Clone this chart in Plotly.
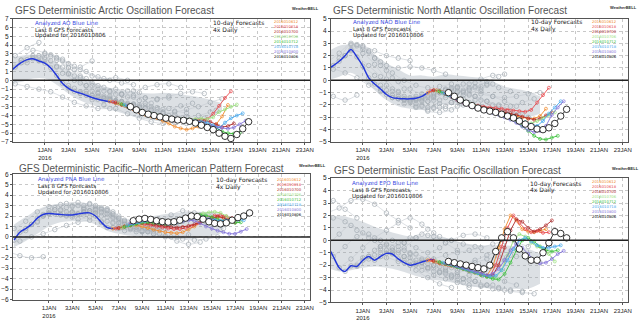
import plotly.graph_objects as go

W, H = 640, 327

# ---------------- time axis (days relative to 1 Jan 2016 00Z) ----------------
ANALYSIS_START = -3.0
ANALYSIS_STEP = 0.5
FCST_STEP = 0.5
GREY_STEP = 1.0
CORE_TIMES = [-3, -2, -1, 0, 1, 2, 3, 4, 5, 6, 7, 8, 9, 10, 11, 12, 13, 14, 15]

FCST_LABELS = ["2016010612", "2016010618", "2016010700", "2016010706",
               "2016010712", "2016010718", "2016010800", "2016010806"]
FCST_INITS = [5.5, 5.75, 6.0, 6.25, 6.5, 6.75, 7.0, 7.25]
GREY_INITS = [-6.5, -6.0, -4.5, -3.0, -2.5, -2.0, -1.5, -1.0, -0.5, 0.0,
              0.5, 1.0, 1.5, 2.0, 2.5, 3.0, 3.5, 4.0, 4.5, 5.0]

X_TICK_VALS = [0, 2, 4, 6, 8, 10, 12, 14, 16, 18, 20, 22]
X_TICK_TEXT = ["1JAN<br>2016", "3JAN", "5JAN", "7JAN", "9JAN", "11JAN", "13JAN",
               "15JAN", "17JAN", "19JAN", "21JAN", "23JAN"]

# ---------------- AO ----------------
AO_ANALYSIS = [0.9, 1.5, 2.0, 2.35, 2.45, 2.2, 1.95, 1.4, 0.55, -0.35, -0.9, -1.25,
               -1.45, -1.7, -1.95, -2.15, -2.3, -2.45, -2.55]
AO_F0612 = [-2.4, -2.6, -2.8, -3.0, -3.3, -3.6, -3.9, -4.1, -4.3, -4.6, -4.9, -5.25, -5.45, -5.6, -5.45, -5.25, -5.2, -5.5, -5.0, -4.1, -2.8]
AO_F0618 = [-2.45, -2.65, -2.9, -3.15, -3.4, -3.65, -3.9, -4.05, -4.2, -4.3, -4.4, -4.45, -4.5, -4.5, -4.5, -4.5, -4.4, -3.8, -2.9, -2.0, -1.25]
AO_F0700 = [-2.5, -2.75, -3.0, -3.25, -3.5, -3.7, -3.9, -4.1, -4.25, -4.4, -4.55, -4.6, -4.6, -4.6, -4.55, -4.6, -4.7, -5.0, -5.3, -5.2, -4.9]
AO_F0706 = [-2.6, -2.85, -3.1, -3.35, -3.6, -3.8, -3.95, -4.1, -4.2, -4.3, -4.4, -4.45, -4.45, -4.4, -4.35, -4.4, -4.2, -3.6, -3.3, -3.0, -2.75]
AO_F0712 = [-2.7, -2.95, -3.2, -3.45, -3.7, -3.85, -4.0, -4.15, -4.3, -4.4, -4.45, -4.5, -4.6, -4.75, -4.9, -5.1, -5.4, -5.8, -6.0, -6.05, -5.95]
AO_F0718 = [-2.8, -3.05, -3.3, -3.55, -3.8, -3.95, -4.1, -4.25, -4.35, -4.45, -4.5, -4.55, -4.6, -4.7, -4.8, -5.1, -5.4, -4.8, -4.3, -4.0, -3.75]
AO_F0800 = [-2.9, -3.2, -3.5, -3.7, -3.9, -4.05, -4.2, -4.3, -4.4, -4.5, -4.55, -4.6, -4.75, -4.9, -5.1, -5.3, -5.4, -5.5, -5.35, -5.0, -4.6]
AO_F0806 = [-3.0, -3.35, -3.65, -3.85, -4.0, -4.15, -4.3, -4.4, -4.5, -4.55, -4.65, -4.85, -5.1, -5.35, -5.6, -6.0, -6.35, -6.6, -6.15, -5.5, -4.7]
AO_CORE_LO = [-0.3, -0.2, 0.2, 0.2, -0.5, -1.5, -2.3, -2.8, -3.2, -3.5, -3.9, -4.3, -4.5, -4.7, -4.8, -4.8, -4.6, -4.2, -3.5]
AO_CORE_HI = [2.6, 2.8, 2.9, 2.7, 2.0, 1.1, 0.4, -0.2, -0.7, -1.0, -1.2, -1.4, -1.5, -1.4, -1.5, -1.7, -1.9, -2.2, -2.6]
AO_GREY = [
    [0.0, 0.6, 1.3, 2.1, 2.8, 3.7, 4.3],
    [0.1, 0.5, 1.0, 1.6, 2.3, 2.8, 2.4, 1.6, 0.8, 1.5, 2.2],
    [0.3, 0.1, -0.4, -0.7, -1.0, -1.3, -1.9, -2.5, -2.9, -3.2, -3.2],
    [0.9, 2.3, 3.4, 3.1, 2.6, 1.9, 1.2, 0.5, 0.2, 0.3, 0.0],
    [1.5, 2.0, 2.6, 2.9, 2.4, 1.6, 1.0, 0.4, 0.0, -0.3, -0.5],
    [2.0, 2.6, 3.0, 2.5, 1.5, 0.5, -0.3, -0.8, -1.0, -1.2, -1.4],
    [2.35, 2.8, 2.7, 2.2, 1.2, 0.2, -0.6, -1.2, -1.5, -1.7, -2.0],
    [2.45, 2.6, 2.3, 1.4, 0.3, -0.6, -1.2, -1.6, -1.9, -2.3, -2.6],
    [2.2, 2.2, 1.5, 0.5, -0.6, -1.4, -2.0, -2.4, -2.7, -2.9, -3.1],
    [1.95, 1.5, 0.7, -0.3, -1.2, -1.8, -2.3, -2.9, -3.3, -3.6, -3.8],
    [1.4, 0.8, 0.0, -0.6, -1.0, -1.3, -1.6, -1.9, -2.0, -2.1, -2.0],
    [0.55, -0.6, -1.5, -2.2, -2.8, -3.2, -3.8, -4.3, -4.7, -4.9, -4.8],
    [-0.35, -0.9, -1.2, -1.5, -1.8, -1.6, -1.2, -0.8, -0.5, -0.4, -0.8],
    [-0.9, -1.3, -1.7, -2.0, -2.3, -2.6, -2.8, -3.0, -3.3, -3.5, -3.7],
    [-1.25, -1.5, -1.8, -2.1, -2.4, -2.8, -3.1, -3.3, -3.2, -2.9, -2.6],
    [-1.45, -1.7, -2.0, -2.4, -2.9, -3.4, -3.9, -4.3, -4.6, -4.9, -5.0],
    [-1.7, -1.9, -2.2, -2.5, -2.7, -2.6, -2.2, -1.8, -1.5, -1.3, -1.5],
    [-1.95, -2.1, -2.4, -2.7, -3.0, -3.3, -3.6, -3.9, -4.1, -4.0, -3.6],
    [-2.15, -2.3, -2.6, -2.9, -3.2, -3.6, -4.0, -4.4, -4.6, -4.3, -3.4],
    [-2.3, -2.5, -2.8, -3.1, -3.4, -3.7, -3.6, -3.3, -3.0, -2.5, -2.1],
]

# ---------------- NAO ----------------
NAO_ANALYSIS = [0.9, 1.2, 1.55, 2.0, 2.5, 1.9, 1.15, 0.2, -0.3, -0.7, -1.15, -1.4,
                -1.47, -1.5, -1.5, -1.45, -1.3, -1.0, -0.75]
NAO_F0612 = [-1.0, -0.8, -0.9, -1.1, -1.35, -1.6, -1.8, -2.0, -2.15, -2.25, -2.4, -2.5, -2.6, -2.7, -2.8, -2.9, -3.0, -3.1, -3.1, -2.9, -2.3]
NAO_F0618 = [-0.85, -0.8, -0.95, -1.15, -1.4, -1.6, -1.8, -1.95, -2.05, -2.15, -2.2, -2.25, -2.3, -2.4, -2.45, -2.5, -2.55, -2.4, -1.8, -1.2, -0.6]
NAO_F0700 = [-0.8, -0.9, -1.1, -1.3, -1.55, -1.75, -1.95, -2.1, -2.2, -2.3, -2.35, -2.45, -2.55, -2.65, -2.8, -2.95, -3.1, -3.2, -3.1, -2.85, -2.6]
NAO_F0706 = [-0.85, -1.0, -1.2, -1.4, -1.6, -1.8, -2.0, -2.15, -2.3, -2.45, -2.55, -2.7, -2.85, -3.0, -3.2, -3.4, -3.5, -3.3, -3.05, -2.8, -2.6]
NAO_F0712 = [-0.9, -1.1, -1.3, -1.5, -1.7, -1.9, -2.1, -2.3, -2.45, -2.6, -2.75, -2.9, -3.1, -3.35, -3.7, -4.1, -4.5, -4.75, -4.8, -4.65, -4.5]
NAO_F0718 = [-1.0, -1.2, -1.4, -1.6, -1.8, -2.0, -2.2, -2.35, -2.5, -2.65, -2.8, -2.95, -3.15, -3.3, -3.4, -3.6, -3.7, -3.3, -2.7, -2.2, -1.7]
NAO_F0800 = [-1.1, -1.35, -1.6, -1.8, -2.0, -2.2, -2.35, -2.5, -2.65, -2.8, -3.0, -3.2, -3.45, -3.75, -4.05, -4.2, -4.1, -3.7, -2.8, -2.2, -1.7]
NAO_F0806 = [-1.0, -1.3, -1.6, -1.85, -2.05, -2.25, -2.4, -2.5, -2.6, -2.75, -2.9, -3.05, -3.3, -3.55, -3.75, -3.95, -4.0, -3.85, -3.5, -2.9, -2.35]
NAO_CORE_LO = [0.0, 0.3, 0.6, 0.0, -0.8, -1.6, -2.1, -2.3, -2.4, -2.2, -1.9, -2.0, -2.2, -2.3, -2.5, -2.7, -2.9, -3.0, -2.7]
NAO_CORE_HI = [2.3, 2.8, 2.9, 2.8, 2.1, 1.4, 0.9, 0.4, 0.4, 0.3, 0.5, 0.4, 0.3, 0.2, -0.1, -0.5, -0.7, -0.9, -1.3]
NAO_GREY = [
    [0.5, 0.0, -0.5, -0.9, -1.3, -1.6, -1.2],
    [0.3, 0.6, 1.0, 1.5, 2.2, 3.0, 2.8, 2.4, 2.0, 1.8, 1.6],
    [0.5, 0.7, 0.9, 0.6, 0.2, -0.4, -0.9, -1.4, -1.9, -2.2, -2.4],
    [0.9, 1.8, 2.9, 2.5, 1.8, 1.2, 1.0, 1.1, 1.0, 0.8, 0.5],
    [1.2, 2.0, 2.8, 2.4, 1.5, 0.6, 0.0, -0.4, -0.6, -0.5, -0.3],
    [1.55, 2.4, 2.7, 1.8, 0.8, -0.1, -0.7, -1.1, -1.3, -1.2, -0.9],
    [2.0, 2.9, 2.3, 1.2, 0.2, -0.7, -1.3, -1.7, -1.9, -1.8, -1.5],
    [2.5, 2.2, 1.3, 0.1, -0.9, -1.6, -2.0, -2.2, -2.3, -2.1, -1.8],
    [1.9, 1.2, 0.3, -0.7, -1.5, -2.1, -2.5, -2.6, -2.4, -2.0, -1.6],
    [1.15, 0.4, -0.4, -1.0, -1.4, -1.6, -1.6, -1.4, -1.0, -0.7, -0.5],
    [0.2, -0.4, -0.9, -1.3, -1.6, -1.7, -1.6, -1.2, -0.8, -0.5, -0.4],
    [-0.3, -0.8, -1.3, -1.8, -2.1, -2.3, -2.1, -1.6, -1.1, -0.7, -0.3],
    [-0.7, -1.2, -1.6, -1.9, -2.2, -2.2, -1.8, -1.2, -0.6, -0.1, 0.3],
    [-1.15, -1.5, -1.7, -1.7, -1.4, -1.0, -0.6, -0.3, 0.1, 0.4, 0.5],
    [-1.4, -1.6, -1.6, -1.4, -1.0, -0.6, -0.3, -0.2, -0.3, -0.6, -0.9],
    [-1.47, -1.6, -1.5, -1.2, -0.8, -0.5, -0.6, -0.9, -1.3, -1.7, -2.1],
    [-1.5, -1.5, -1.3, -1.0, -0.8, -1.0, -1.3, -1.7, -2.1, -2.5, -2.8],
    [-1.5, -1.4, -1.1, -0.8, -0.9, -1.2, -1.6, -2.0, -2.4, -2.8, -3.0],
    [-1.45, -1.2, -0.9, -0.7, -0.9, -1.3, -1.7, -2.0, -2.1, -1.8, -1.5],
    [-1.3, -1.0, -0.7, -0.6, -0.8, -1.1, -1.3, -1.4, -1.3, -1.1, -1.0],
]

# ---------------- PNA ----------------
PNA_ANALYSIS = [-0.3, 0.45, 0.8, 1.2, 1.8, 2.15, 2.25, 2.2, 2.15, 2.1, 2.1, 2.2,
                2.3, 2.3, 2.0, 1.4, 0.9, 0.8, 0.85]
PNA_F0612 = [0.8, 0.85, 1.0, 1.1, 1.1, 1.0, 0.85, 0.7, 0.55, 0.45, 0.4, 0.35, 0.45, 0.7, 1.0, 1.35, 1.6, 1.8, 1.9, 1.85, 1.7]
PNA_F0618 = [0.8, 0.9, 1.05, 1.2, 1.25, 1.2, 1.1, 1.0, 0.9, 0.8, 0.75, 0.75, 0.85, 1.05, 1.3, 1.6, 1.85, 2.05, 2.1, 1.95, 1.8]
PNA_F0700 = [0.85, 1.0, 1.15, 1.3, 1.35, 1.3, 1.2, 1.1, 1.0, 0.95, 0.9, 0.95, 1.05, 1.2, 1.4, 1.6, 1.8, 1.95, 1.85, 1.6, 1.4]
PNA_F0706 = [0.9, 1.05, 1.2, 1.35, 1.45, 1.45, 1.4, 1.35, 1.3, 1.35, 1.5, 1.7, 1.9, 2.1, 2.25, 2.35, 2.4, 2.3, 2.0, 1.7, 1.5]
PNA_F0712 = [0.95, 1.1, 1.25, 1.35, 1.4, 1.35, 1.3, 1.25, 1.3, 1.4, 1.6, 1.8, 2.0, 2.1, 2.05, 1.9, 1.7, 1.5, 1.4, 1.35, 1.4]
PNA_F0718 = [1.1, 1.25, 1.4, 1.5, 1.55, 1.5, 1.45, 1.4, 1.45, 1.6, 1.75, 1.9, 1.95, 1.85, 1.7, 1.6, 1.55, 1.6, 1.7, 1.65, 1.6]
PNA_F0800 = [1.3, 1.45, 1.6, 1.65, 1.6, 1.5, 1.4, 1.35, 1.4, 1.5, 1.6, 1.55, 1.3, 1.0, 0.8, 0.6, 0.45, 0.3, 0.3, 0.5, 0.75]
PNA_F0806 = [1.55, 1.7, 1.77, 1.68, 1.55, 1.46, 1.42, 1.45, 1.6, 1.8, 2.0, 1.95, 1.7, 1.45, 1.3, 1.25, 1.35, 1.6, 1.85, 2.0, 2.3]
PNA_CORE_LO = [-1.0, -0.4, 0.3, 1.0, 1.4, 1.5, 1.5, 1.2, 0.6, 0.3, 0.1, 0.0, -0.1, -0.1, -0.2, -0.2, -0.1, 0.1, 0.4]
PNA_CORE_HI = [1.2, 1.9, 2.6, 3.0, 3.2, 3.2, 3.2, 3.0, 2.5, 1.8, 1.7, 1.8, 2.0, 2.2, 2.3, 2.4, 2.4, 2.4, 2.1]
PNA_GREY = [
    [-0.5, -0.8, -1.1, -1.4, -1.8, -2.0, -1.9],
    [-0.5, -0.2, 0.3, 0.8, 1.5, 2.4, 2.9, 3.1, 3.0, 2.8, 2.4],
    [-0.8, -0.6, -0.4, 0.0, 0.3, 0.7, 1.1, 1.4, 1.6, 1.5, 1.3],
    [-0.3, 0.6, 1.4, 2.2, 2.6, 2.9, 3.0, 2.7, 2.2, 1.6, 1.2],
    [0.45, 1.2, 2.0, 2.8, 3.2, 3.3, 3.1, 2.6, 1.9, 1.3, 0.9],
    [0.8, 1.5, 2.3, 2.5, 2.4, 2.6, 2.8, 2.5, 1.7, 1.0, 0.6],
    [1.2, 2.0, 2.6, 2.8, 3.0, 3.2, 2.8, 2.0, 1.2, 0.7, 0.5],
    [1.8, 2.5, 2.6, 2.4, 2.7, 3.0, 2.6, 1.8, 1.0, 0.6, 0.5],
    [2.15, 2.6, 2.4, 2.2, 2.5, 2.6, 2.2, 1.4, 0.8, 0.6, 0.7],
    [2.25, 2.1, 1.9, 2.1, 2.5, 2.7, 2.0, 1.2, 0.8, 0.9, 1.2],
    [2.2, 2.0, 1.7, 1.9, 2.3, 2.2, 1.5, 0.9, 0.7, 0.9, 1.3],
    [2.15, 2.3, 2.4, 2.6, 2.5, 1.8, 1.0, 0.6, 0.6, 0.8, 1.0],
    [2.1, 2.2, 2.5, 2.7, 2.4, 1.6, 1.0, 0.8, 1.1, 1.5, 1.8],
    [2.1, 2.4, 2.6, 2.2, 1.4, 0.8, 0.5, 0.3, 0.1, 0.0, 0.2],
    [2.2, 2.5, 2.4, 1.8, 1.2, 0.9, 1.1, 1.6, 2.1, 2.5, 2.3],
    [2.3, 2.3, 1.9, 1.3, 0.8, 0.5, 0.3, 0.0, -0.4, -0.7, -0.5],
    [2.3, 2.0, 1.4, 0.9, 0.7, 0.8, 1.0, 1.2, 1.5, 1.6, 1.4],
    [2.0, 1.5, 1.0, 0.7, 0.6, 0.8, 1.2, 1.6, 1.9, 2.1, 2.0],
    [1.4, 0.9, 0.6, 0.5, 0.5, 0.3, 0.0, -0.2, -0.3, -0.2, 0.0],
    [0.9, 0.8, 0.9, 1.0, 1.2, 1.5, 1.7, 1.8, 1.6, 1.2, 0.8],
]

# ---------------- EPO ----------------
EPO_ANALYSIS = [-0.4, -1.3, -2.2, -2.5, -2.05, -2.1, -1.6, -1.3, -1.6, -1.3, -1.05, -1.1,
                -1.5, -1.8, -2.0, -1.9, -1.75, -1.6, -1.55]
EPO_F0612 = [-1.6, -1.7, -1.85, -1.95, -2.05, -2.15, -2.3, -2.45, -2.6, -2.75, -2.85, -2.1, -0.6, 0.9, 2.0, 1.6, 0.9, 0.7, 0.65, 0.75, 0.9]
EPO_F0618 = [-1.6, -1.75, -1.9, -2.0, -2.1, -2.2, -2.35, -2.5, -2.65, -2.8, -2.9, -2.0, -0.5, 1.0, 2.0, 1.4, 0.9, 0.65, 0.75, 0.6, 0.65]
EPO_F0700 = [-1.65, -1.8, -1.9, -2.0, -2.1, -2.25, -2.4, -2.55, -2.7, -2.85, -2.8, -2.0, -0.6, 0.8, 1.7, 1.5, 1.0, 0.7, 0.9, 1.2, 1.6]
EPO_F0706 = [-1.7, -1.85, -1.95, -2.05, -2.2, -2.35, -2.5, -2.65, -2.8, -2.95, -3.0, -2.4, -1.2, 0.0, 0.5, 0.3, -0.2, -0.5, -0.7, -1.1, -1.7]
EPO_F0712 = [-1.75, -1.9, -2.0, -2.15, -2.3, -2.45, -2.6, -2.8, -2.95, -3.1, -3.15, -2.7, -1.8, -0.8, 0.0, 0.2, -0.1, -0.5, -0.8, -0.9, -0.8]
EPO_F0718 = [-1.8, -1.9, -2.05, -2.2, -2.35, -2.5, -2.65, -2.8, -2.9, -2.85, -2.4, -1.6, -0.7, 0.0, 0.2, -0.1, -0.4, -0.6, -0.6, -0.5, -0.4]
EPO_F0800 = [-1.85, -1.95, -2.1, -2.25, -2.4, -2.55, -2.7, -2.8, -2.7, -2.3, -1.6, -0.8, -0.3, -0.6, -1.1, -1.6, -1.85, -1.8, -1.5, -1.1, -0.85]
EPO_F0806 = [-1.7, -1.8, -1.9, -2.0, -2.1, -2.2, -2.3, -2.0, -0.9, 0.2, 0.7, 0.2, -0.7, -1.25, -1.6, -1.6, -1.0, -0.2, 0.7, 0.55, 0.2]
EPO_CORE_LO = [-2.2, -2.5, -2.4, -2.2, -2.1, -2.2, -2.4, -2.7, -3.0, -3.2, -3.3, -3.5, -3.7, -3.8, -3.9, -3.9, -3.9, -3.9, -3.5]
EPO_CORE_HI = [1.8, 2.0, 1.8, 1.5, 1.1, 0.8, 0.5, 0.3, 0.3, 0.3, 0.2, -0.1, -0.3, -0.4, -0.4, -0.4, -0.5, -0.7, -1.1]
EPO_GREY = [
    [0.5, 1.0, 1.6, 2.4, 3.2, 2.5, 1.8],
    [0.3, 0.8, 1.5, 2.2, 2.6, 3.2, 3.3, 2.9, 2.2, 1.6, 1.0],
    [0.2, 0.6, 1.8, 1.5, 0.8, 0.2, -0.5, -1.0, -0.6, 0.2, 0.9],
    [-0.4, 0.5, 1.2, 0.6, 0.0, -0.4, -0.2, 0.2, 0.5, 0.3, -0.2],
    [-1.3, -0.5, 0.3, 0.5, 0.0, -0.8, -1.6, -2.4, -3.0, -3.5, -3.8],
    [-2.2, -1.5, -0.6, 0.2, 0.8, 1.4, 1.8, 1.3, 0.6, -0.2, -0.8],
    [-2.5, -2.0, -1.3, -0.5, -0.8, -1.3, -1.8, -2.2, -2.6, -3.0, -3.4],
    [-2.05, -1.4, -0.8, -0.3, -0.5, -1.0, -1.5, -2.0, -2.5, -3.2, -3.8],
    [-2.1, -1.5, -1.0, -0.6, -0.2, 0.2, 0.4, 0.3, 0.0, -0.3, -0.5],
    [-1.6, -1.2, -0.8, -1.0, -1.4, -1.8, -2.2, -2.6, -2.9, -2.8, -2.5],
    [-1.3, -0.7, 0.0, -0.2, -0.6, -1.0, -0.6, 0.0, 0.4, 0.5, 0.2],
    [-1.6, -1.4, -1.7, -2.0, -2.4, -2.8, -3.1, -3.4, -3.6, -3.7, -3.6],
    [-1.3, -1.0, -0.8, -1.1, -1.5, -1.8, -2.0, -1.9, -1.6, -1.2, -0.9],
    [-1.05, -0.8, -1.1, -1.6, -2.0, -2.4, -2.8, -3.2, -3.6, -3.9, -4.0],
    [-1.1, -1.3, -1.6, -1.9, -2.1, -2.2, -2.1, -1.8, -1.5, -1.3, -1.2],
    [-1.5, -1.7, -2.1, -2.5, -2.7, -2.6, -2.4, -2.5, -2.9, -3.3, -3.6],
    [-1.8, -2.0, -2.3, -2.6, -2.9, -3.1, -3.3, -3.6, -3.8, -4.0, -4.1],
    [-2.0, -1.8, -1.5, -1.2, -1.0, -0.8, -0.6, -0.3, -0.1, -0.2, -0.5],
    [-1.9, -2.2, -2.5, -2.8, -3.1, -3.3, -3.6, -3.9, -4.1, -4.2, -4.3],
    [-1.75, -2.0, -2.2, -2.4, -2.5, -2.4, -2.0, -1.6, -1.3, -1.5, -1.8],
]

# ---------------- styles ----------------
FONT = "Liberation Sans"
WIDE = "DejaVu Sans"
FCST_COLORS = ["#f08a2a", "#e8484c", "#b02828", "#98e07a", "#38c038",
               "#44a8ee", "#8070d8", "#000000"]
BLUE = "#2438d8"
GREY_LINE = "#c4cad0"
GREY_MARK = "#a2aab2"
CORE_FILL = "rgba(150,160,172,0.33)"

PANELS = [
    dict(code="AO", title="GFS Deterministic Arctic Oscillation Forecast",
         yr=[-7, 7], xr=[-2.7, 22.45], box=(13, 312, 15, 141),
         ana=AO_ANALYSIS, grey=AO_GREY, lo=AO_CORE_LO, hi=AO_CORE_HI,
         fc=[AO_F0612, AO_F0618, AO_F0700, AO_F0706, AO_F0712, AO_F0718, AO_F0800, AO_F0806],
         t=(14, 7), leg=(34, 19.5), ten=(213, 19.5), col=(275, 14), logo=(293, 5)),
    dict(code="NAO", title="GFS Deterministic North Atlantic Oscillation Forecast",
         yr=[-5, 5], xr=[-2.7, 22.45], box=(333, 632, 15, 141),
         ana=NAO_ANALYSIS, grey=NAO_GREY, lo=NAO_CORE_LO, hi=NAO_CORE_HI,
         fc=[NAO_F0612, NAO_F0618, NAO_F0700, NAO_F0706, NAO_F0712, NAO_F0718, NAO_F0800, NAO_F0806],
         t=(334, 7), leg=(354, 18.5), ten=(533, 18.5), col=(595, 14), logo=(613, 4)),
    dict(code="PNA", title="GFS Deterministic Pacific\u2013North American Pattern Forecast",
         yr=[-6, 6], xr=[-3.1, 22.45], box=(13, 312, 174, 302),
         ana=PNA_ANALYSIS, grey=PNA_GREY, lo=PNA_CORE_LO, hi=PNA_CORE_HI,
         fc=[PNA_F0612, PNA_F0618, PNA_F0700, PNA_F0706, PNA_F0712, PNA_F0718, PNA_F0800, PNA_F0806],
         t=(18, 168), leg=(37, 179.5), ten=(216, 179.5), col=(278, 176), logo=(300, 165)),
    dict(code="EPO", title="GFS Deterministic East Pacific Oscillation Forecast",
         yr=[-5, 5], xr=[-2.7, 22.45], box=(333, 632, 178, 305),
         ana=EPO_ANALYSIS, grey=EPO_GREY, lo=EPO_CORE_LO, hi=EPO_CORE_HI,
         fc=[EPO_F0612, EPO_F0618, EPO_F0700, EPO_F0706, EPO_F0712, EPO_F0718, EPO_F0800, EPO_F0806],
         t=(335, 170), leg=(353, 183.5), ten=(532, 183.5), col=(595, 178), logo=(615, 168)),
]


def ann(px, py, text, size, color="#222", xanchor="left", yanchor="middle", family=FONT):
    return dict(x=px / W, y=1 - py / H, xref="paper", yref="paper", text=text,
                showarrow=False, xanchor=xanchor, yanchor=yanchor, align="left",
                borderpad=0, font=dict(size=size, color=color, family=family))


def colored_block(labels, colors):
    return "<br>".join('<span style="color:%s">%s</span>' % (c, l) for l, c in zip(labels, colors))


fig = go.Figure()
annotations = []
shapes = []
layout_axes = {}

for i, p in enumerate(PANELS, start=1):
    sfx = "" if i == 1 else str(i)
    xa, ya = "x" + sfx, "y" + sfx
    # dense core of the older forecasts
    fig.add_trace(go.Scatter(x=CORE_TIMES, y=p["lo"], mode="lines", xaxis=xa, yaxis=ya,
                             line=dict(width=0, shape="spline"), hoverinfo="skip", showlegend=False))
    fig.add_trace(go.Scatter(x=CORE_TIMES, y=p["hi"], mode="lines", xaxis=xa, yaxis=ya,
                             line=dict(width=0, shape="spline"), fill="tonexty", fillcolor=CORE_FILL,
                             hoverinfo="skip", showlegend=False))
    # grey older forecasts
    for init, vals in zip(GREY_INITS, p["grey"]):
        xs = [init + GREY_STEP * k for k in range(len(vals))]
        fig.add_trace(go.Scatter(
            x=xs, y=vals, mode="lines+markers", xaxis=xa, yaxis=ya,
            line=dict(color=GREY_LINE, width=0.6, shape="spline", smoothing=1.0),
            marker=dict(symbol="circle-open", size=4.5, color=GREY_MARK, line=dict(width=0.7)),
            hoverinfo="skip", showlegend=False))
    # analysis
    xs = [ANALYSIS_START + ANALYSIS_STEP * k for k in range(len(p["ana"]))]
    fig.add_trace(go.Scatter(
        x=xs, y=p["ana"], mode="lines", xaxis=xa, yaxis=ya,
        line=dict(color=BLUE, width=1.5, shape="spline", smoothing=0.8),
        hoverinfo="skip", showlegend=False))
    # last 8 forecasts
    for j, (init, vals) in enumerate(zip(FCST_INITS, p["fc"])):
        xs = [init + FCST_STEP * k for k in range(len(vals))]
        if j < 7:
            fig.add_trace(go.Scatter(
                x=xs, y=vals, mode="lines+markers", xaxis=xa, yaxis=ya,
                line=dict(color=FCST_COLORS[j], width=0.9),
                marker=dict(symbol="circle-open", size=3, color=FCST_COLORS[j], line=dict(width=0.7)),
                hoverinfo="skip", showlegend=False))
        else:
            fig.add_trace(go.Scatter(
                x=xs, y=vals, mode="lines+markers", xaxis=xa, yaxis=ya,
                line=dict(color="#000000", width=0.8),
                marker=dict(symbol="circle", size=6.5, color="white",
                            line=dict(color="#000000", width=0.8)),
                hoverinfo="skip", showlegend=False))

    x0, x1, y0, y1 = p["box"]
    layout_axes["xaxis" + sfx] = dict(
        domain=[x0 / W, x1 / W], range=p["xr"], anchor=ya,
        tickvals=X_TICK_VALS, ticktext=X_TICK_TEXT,
        tickfont=dict(size=6, family=FONT, color="#222"),
        showgrid=True, gridcolor="#c8c8c8", griddash="dot", gridwidth=0.8,
        zeroline=False, showline=True, mirror=True, linecolor="#555", linewidth=1,
        ticks="outside", ticklen=2, tickcolor="#555")
    layout_axes["yaxis" + sfx] = dict(
        domain=[1 - y1 / H, 1 - y0 / H], range=p["yr"], anchor=xa,
        tickvals=list(range(p["yr"][0], p["yr"][1] + 1)),
        tickfont=dict(size=6.5, family=FONT, color="#222"),
        showgrid=True, gridcolor="#c8c8c8", griddash="dot", gridwidth=0.8,
        zeroline=False, showline=True, mirror=True, linecolor="#555", linewidth=1,
        ticks="outside", ticklen=2, tickcolor="#555")
    # zero reference line drawn over the forecast band
    shapes.append(dict(type="line", xref=xa + " domain", yref=ya, x0=0, x1=1, y0=0, y1=0,
                       line=dict(color="#222", width=1.5), layer="above"))

    # texts
    annotations.append(ann(p["t"][0], p["t"][1], p["title"], 10, "#555"))
    lx, ly = p["leg"]
    annotations.append(ann(lx, ly, "Analyzed %s Blue Line" % p["code"], 5.6, "#3a4ae0", family=WIDE))
    annotations.append(ann(lx, ly + 6.6, "Last 8 GFS Forecasts", 5.6, "#222", family=WIDE))
    annotations.append(ann(lx, ly + 13.2, "Updated for 2016010806", 5.6, "#222", family=WIDE))
    tx, ty = p["ten"]
    annotations.append(ann(tx, ty, "10-day Forecasts", 6, "#222", family=WIDE))
    annotations.append(ann(tx, ty + 7, "4x Daily", 6, "#222", family=WIDE))
    cx, cy = p["col"]
    annotations.append(ann(cx, cy, colored_block(FCST_LABELS[:3], FCST_COLORS[:3]), 3.8,
                           yanchor="top", family=WIDE))
    annotations.append(ann(cx, cy + 15.5, colored_block(FCST_LABELS[3:], FCST_COLORS[3:]), 3.8,
                           yanchor="top", family=WIDE))
    annotations.append(ann(p["logo"][0], p["logo"][1], "<b>WeatherBELL</b>", 4, "#333"))

fig.update_layout(
    width=W, height=H, margin=dict(l=0, r=0, t=0, b=0),
    paper_bgcolor="white", plot_bgcolor="white",
    showlegend=False, annotations=annotations, shapes=shapes, **layout_axes)

fig.write_html("out.html")
